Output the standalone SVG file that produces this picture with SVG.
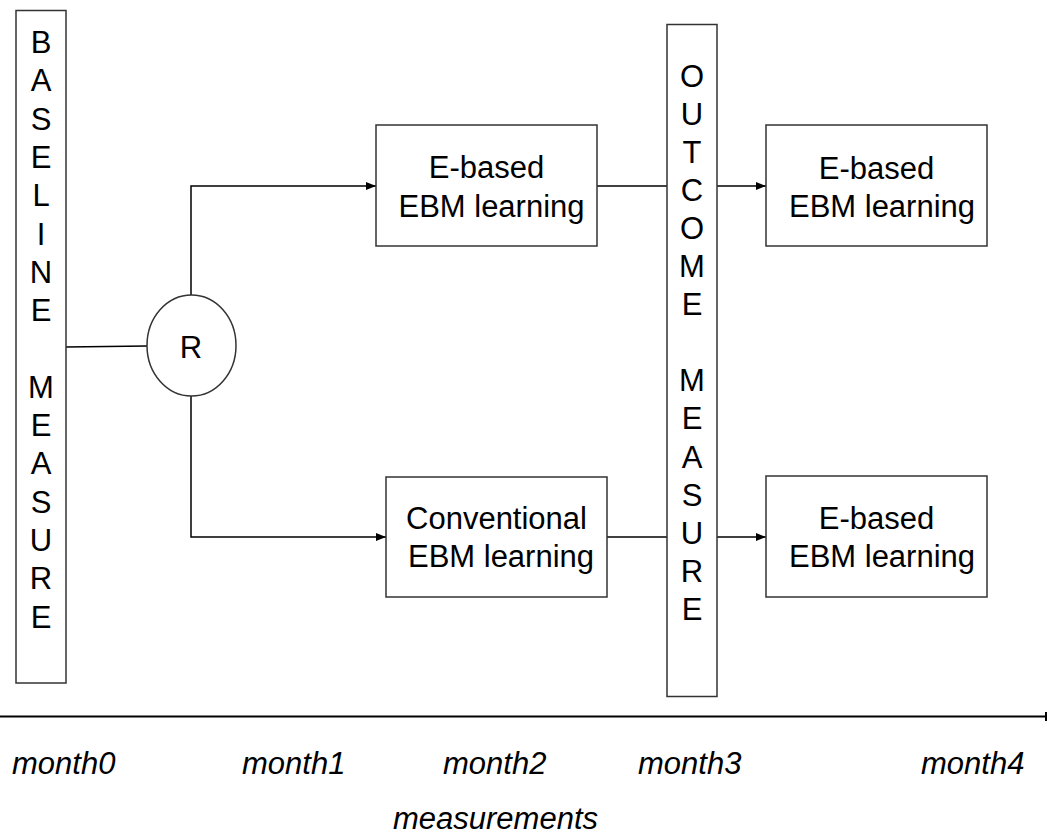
<svg xmlns="http://www.w3.org/2000/svg" width="1047" height="836" viewBox="0 0 1047 836">
<style>
.box{fill:#fff;stroke:#333;stroke-width:1.5}
.ln{fill:none;stroke:#000;stroke-width:1.5}
.t{font-family:"Liberation Sans",Arial,sans-serif;font-size:31px;fill:#000}
.c{text-anchor:middle}
.i{font-style:italic}
</style>
<defs>
<marker id="ah" markerWidth="10" markerHeight="8" refX="10" refY="4" orient="auto" markerUnits="userSpaceOnUse">
<path d="M0,0 L10,4 L0,8 Z" fill="#000"/>
</marker>
</defs>
<g id="connectors">
<path class="ln" d="M66,347 L147,346"/>
<path class="ln" d="M191,295 L191,186 L376,186" marker-end="url(#ah)"/>
<path class="ln" d="M191,396 L191,537 L386,537" marker-end="url(#ah)"/>
<path class="ln" d="M597,186 L667,186"/>
<path class="ln" d="M717,186 L766,186" marker-end="url(#ah)"/>
<path class="ln" d="M607,537 L667,537"/>
<path class="ln" d="M717,537 L766,537" marker-end="url(#ah)"/>
</g>
<g id="baseline">
<rect class="box" x="16" y="10.5" width="50" height="672.5"/>
<text class="t c" x="41">
<tspan x="41" y="53">B</tspan><tspan x="41" y="91.3">A</tspan><tspan x="41" y="129.6">S</tspan><tspan x="41" y="167.9">E</tspan><tspan x="41" y="206.2">L</tspan><tspan x="41" y="244.5">I</tspan><tspan x="41" y="282.8">N</tspan><tspan x="41" y="321.1">E</tspan><tspan x="41" y="397.7">M</tspan><tspan x="41" y="436">E</tspan><tspan x="41" y="474.3">A</tspan><tspan x="41" y="512.6">S</tspan><tspan x="41" y="550.9">U</tspan><tspan x="41" y="589.2">R</tspan><tspan x="41" y="627.5">E</tspan>
</text>
</g>
<g id="randomize">
<ellipse class="box" cx="191.5" cy="345.5" rx="44.5" ry="50.5"/>
<text class="t c" x="191" y="358">R</text>
</g>
<g id="ebased1">
<rect class="box" x="376" y="125" width="221" height="121"/>
<text class="t c" x="486.5" y="178">E-based</text>
<text class="t c" x="491.5" y="216.5">EBM learning</text>
</g>
<g id="conventional">
<rect class="box" x="386" y="477" width="221" height="120"/>
<text class="t c" x="496.5" y="529">Conventional</text>
<text class="t c" x="501" y="567">EBM learning</text>
</g>
<g id="outcome">
<rect class="box" x="667" y="24.5" width="50" height="672"/>
<text class="t c" x="692">
<tspan x="692" y="86.5">O</tspan><tspan x="692" y="124.6">U</tspan><tspan x="692" y="162.7">T</tspan><tspan x="692" y="200.8">C</tspan><tspan x="692" y="238.9">O</tspan><tspan x="692" y="277">M</tspan><tspan x="692" y="315.1">E</tspan><tspan x="692" y="391.3">M</tspan><tspan x="692" y="429.4">E</tspan><tspan x="692" y="467.5">A</tspan><tspan x="692" y="505.6">S</tspan><tspan x="692" y="543.7">U</tspan><tspan x="692" y="581.8">R</tspan><tspan x="692" y="619.9">E</tspan>
</text>
</g>
<g id="ebased2">
<rect class="box" x="766" y="125" width="221" height="121"/>
<text class="t c" x="876.5" y="179">E-based</text>
<text class="t c" x="882" y="217">EBM learning</text>
</g>
<g id="ebased3">
<rect class="box" x="766" y="476" width="221" height="121"/>
<text class="t c" x="876.5" y="529">E-based</text>
<text class="t c" x="882" y="567">EBM learning</text>
</g>
<g id="timeline">
<line x1="0" y1="716.5" x2="1045" y2="716.5" stroke="#000" stroke-width="2"/>
<path d="M1045,712 L1047,712 L1047,721 L1045,721 Z" fill="#000"/>
<text class="t i" x="12" y="774">month0</text>
<text class="t i" x="242" y="774">month1</text>
<text class="t i" x="443" y="774">month2</text>
<text class="t i" x="638" y="774">month3</text>
<text class="t i" x="921" y="774">month4</text>
<text class="t i" x="393" y="829">measurements</text>
</g>
</svg>
